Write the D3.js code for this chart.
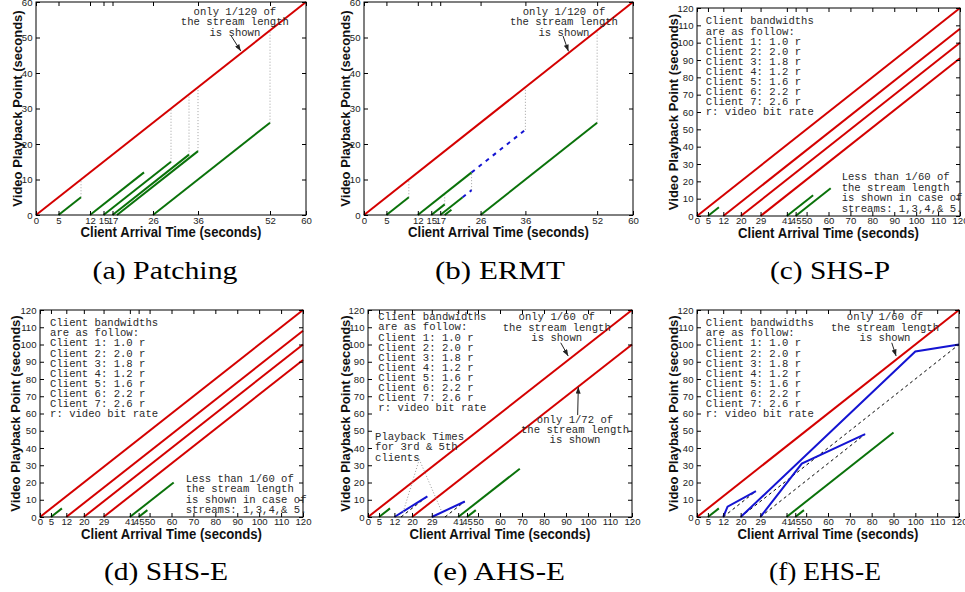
<!DOCTYPE html>
<html><head><meta charset="utf-8">
<script src="https://cdn.jsdelivr.net/npm/d3@7"></script>
<style>body{margin:0;background:#fff}svg{display:block}</style>
</head><body>
<svg id="c" width="965" height="592"></svg>
<script>
// ---------------- tick labels ----------------
const xTicksPatching = [0, 5, 12, 15, 17, 26, 36, 52, 60];
const yTicks60 = [0, 10, 20, 30, 40, 50, 60];
const xTicksHybrid = [0, 5, 12, 20, 29, 41, 45, 50, 60, 70, 80, 90, 100, 110, 120];
const yTicks120 = [0, 10, 20, 30, 40, 50, 60, 70, 80, 90, 100, 110, 120];

// ---------------- (a) Patching ----------------
const patchingRegular = [[[0, 0], [60, 60]]];
const patchingPatches = [
  [[5, 0], [10, 5]], [[12, 0], [24, 12]], [[15, 0], [30, 15]],
  [[17, 0], [34, 17]], [[18, 0], [36, 18]], [[26, 0], [52, 26]]
];
const patchingGuides = [
  [[10, 5], [10, 10]], [[30, 15], [30, 30]], [[34, 17], [34, 34]],
  [[36, 18], [36, 36]], [[52, 26], [52, 52]]
];

// ---------------- (b) ERMT ----------------
const ermtRegular = [[[0, 0], [60, 60]]];
const ermtPatches = [
  [[5, 0], [10, 5]], [[12, 0], [24, 12]], [[15, 0], [18, 3]],
  [[17, 0], [22, 5]], [[18, 0], [19.5, 1.5]], [[26, 0], [52, 26]]
];
const ermtExtended = [[[22, 5], [24, 7]], [[24, 12], [36, 24]]];
const ermtGuides = [
  [[10, 5], [10, 10]], [[18, 3], [18, 6]], [[24, 7], [24, 12]],
  [[36, 24], [36, 36]], [[52, 26], [52, 52]]
];

// ---------------- (c) SHS-P / (d) SHS-E ----------------
const shsRegular = [
  [[0, 0], [120, 120]], [[12, 0], [120, 108]],
  [[20, 0], [120, 100]], [[29, 0], [120, 91]]
];
const shspPatches = [[[5, 0], [10, 5]], [[41, 0], [53, 12]], [[45, 0], [61, 16]]];
const shsePatches = [[[5, 0], [10, 5]], [[41, 0], [61, 20]], [[45, 0], [49, 4]]];

// ---------------- (e) AHS-E ----------------
const ahseRegular = [[[0, 0], [120, 120]], [[20, 0], [120, 100]]];
const ahsePatches = [[[5, 0], [10, 5]], [[41, 0], [69, 28]], [[45, 0], [49, 4]]];
const ahseDownloads = [[[12, 0], [27, 12]], [[29, 0], [44, 9]]];
const ahsePlayback = [[[15, 0], [27, 12]], [[35, 0], [44, 9]]];

// ---------------- (f) EHS-E ----------------
const ehseRegular = [[[0, 0], [120, 120]]];
const ehsePatches = [[[5, 0], [10, 5]], [[41, 0], [90, 49]], [[45, 0], [49, 4]]];
const ehseDownloads = [
  [[12, 0], [14, 6], [27, 15]],
  [[20, 0], [100, 96], [120, 100]],
  [[29, 0], [48, 31], [77, 48]]
];
const ehsePlayback = [[[12, 0], [27, 15]], [[20, 0], [120, 100]], [[29, 0], [77, 48]]];

// ---------------- texts ----------------
const note120 = ["only 1/120 of", "the stream length", "is shown"];
const note60 = ["only 1/60 of", "the stream length", "is shown"];
const note72 = ["only 1/72 of", "the stream length", "is shown"];
const bandwidthNote = ["Client bandwidths", "are as follow:", "Client 1: 1.0 r", "Client 2: 2.0 r",
  "Client 3: 1.8 r", "Client 4: 1.2 r", "Client 5: 1.6 r", "Client 6: 2.2 r", "Client 7: 2.6 r",
  "r: video bit rate"];
const lessNote = ["Less than 1/60 of", "the stream length", "is shown in case of", "streams: 1,3,4,& 5."];
const playbackNote = ["Playback Times", "for 3rd & 5th", "clients"];
const captions = ["(a) Patching", "(b) ERMT", "(c) SHS-P", "(d) SHS-E", "(e) AHS-E", "(f) EHS-E"];
const xTitle = "Client Arrival Time (seconds)";
const yTitle = "Video Playback Point (seconds)";

// ---------------- styles ----------------
const RED = "#d40000", GREEN = "#0a720a", BLUE = "#1414d2", BLACK = "#000";
const SANS = "Liberation Sans, Arial, Helvetica, sans-serif";
const MONO = "Liberation Mono, Courier New, monospace";
const SERIF = "Liberation Serif, Times New Roman, serif";

const svg = d3.select("#c");
const defs = svg.append("defs");
defs.append("marker").attr("id", "arr").attr("viewBox", "0 0 8 6")
  .attr("refX", 8).attr("refY", 3).attr("markerWidth", 7).attr("markerHeight", 5)
  .attr("markerUnits", "userSpaceOnUse").attr("orient", "auto")
  .append("path").attr("d", "M0,0L8,3L0,6Z").attr("fill", "#222");

function drawPanel(p) {
  const x = d3.scaleLinear().domain(p.xDomain).range([p.left, p.right]);
  const y = d3.scaleLinear().domain(p.yDomain).range([p.bottom, p.top]);
  const g = svg.append("g");
  const line = d3.line().x(d => x(d[0])).y(d => y(d[1]));

  p.layers.forEach(L => {
    g.append("g").selectAll("path").data(L.data).enter().append("path")
      .attr("d", line).attr("fill", "none").attr("stroke", L.color)
      .attr("stroke-width", L.width).attr("stroke-dasharray", L.dash || null);
  });

  function styleAxis(a) {
    a.select(".domain").remove();
    a.attr("font-family", SANS).attr("font-size", 9.6);
    a.selectAll("text").attr("fill", "#222");
    a.selectAll("line").attr("stroke", "#000");
  }
  const ab = g.append("g").attr("transform", `translate(0,${p.bottom})`)
    .call(d3.axisBottom(x).tickValues(p.xTicks).tickSize(-4).tickPadding(p.xPad).tickFormat(d3.format("d")));
  styleAxis(ab);
  const at = g.append("g").attr("transform", `translate(0,${p.top})`)
    .call(d3.axisTop(x).tickValues(p.xTicks).tickSize(-4).tickFormat(""));
  styleAxis(at);
  const al = g.append("g").attr("transform", `translate(${p.left},0)`)
    .call(d3.axisLeft(y).tickValues(p.yTicks).tickSize(-4).tickPadding(3.5).tickFormat(d3.format("d")));
  styleAxis(al);
  const ar = g.append("g").attr("transform", `translate(${p.right},0)`)
    .call(d3.axisRight(y).tickValues(p.yTicks).tickSize(-4).tickFormat(""));
  styleAxis(ar);

  g.append("rect").attr("x", p.left).attr("y", p.top)
    .attr("width", p.right - p.left).attr("height", p.bottom - p.top)
    .attr("fill", "none").attr("stroke", "#000").attr("stroke-width", 1);

  // axis titles
  g.append("text").attr("x", (p.left + p.right) / 2).attr("y", p.xTitleY)
    .attr("text-anchor", "middle").attr("font-family", SANS).attr("font-weight", "bold")
    .attr("font-size", 14.5).attr("fill", "#111")
    .attr("textLength", 181).attr("lengthAdjust", "spacingAndGlyphs").text(xTitle);
  g.append("text").attr("transform", `translate(${p.yTitleX},${(p.top + p.bottom) / 2}) rotate(-90)`)
    .attr("dy", "0.35em").attr("text-anchor", "middle").attr("font-family", SANS)
    .attr("font-weight", "bold").attr("font-size", 13).attr("fill", "#111").text(yTitle);

  // annotations (positions in data units)
  (p.notes || []).forEach(n => {
    if (n.type === "text") {
      const t = g.append("text").attr("font-family", MONO).attr("font-size", 10.6)
        .attr("fill", "#2a2a2a").attr("text-anchor", n.anchor || "start")
        .attr("xml:space", "preserve");
      n.lines.forEach((s, i) => {
        t.append("tspan").attr("x", x(n.at[0])).attr("y", y(n.at[1]) + i * (n.gap || 10.2)).text(s);
      });
    } else {
      g.append("path").attr("d", line([n.from, n.to])).attr("fill", "none")
        .attr("stroke", n.type === "arrow" ? "#222" : "#9a9a9a")
        .attr("stroke-width", 1)
        .attr("stroke-dasharray", n.type === "arrow" ? null : "1,2")
        .attr("marker-end", n.head ? "url(#arr)" : null);
    }
  });

  // caption
  g.append("text").attr("x", p.capX).attr("y", p.capY).attr("text-anchor", "middle")
    .attr("font-family", SERIF).attr("font-size", 26).attr("fill", "#000")
    .attr("textLength", p.capW).attr("lengthAdjust", "spacingAndGlyphs").text(p.caption);
}

const guideStyle = { color: "#a0a0a0", width: 1, dash: "1,2" };

drawPanel({
  left: 36, right: 306, top: 2, bottom: 215, xDomain: [0, 60], yDomain: [0, 60],
  xTicks: xTicksPatching, yTicks: yTicks60, xTitleY: 237, yTitleX: 17, xPad: 2.5,
  caption: captions[0], capX: 165, capY: 279, capW: 145,
  layers: [
    Object.assign({ data: patchingGuides }, guideStyle),
    { data: patchingRegular, color: RED, width: 2 },
    { data: patchingPatches, color: GREEN, width: 2 }
  ],
  notes: [
    { type: "text", lines: note120, at: [44.2, 56.3], anchor: "middle" },
    { type: "arrow", from: [43.4, 50.4], to: [45.5, 46.2], head: true }
  ]
});

drawPanel({
  left: 364, right: 633, top: 2, bottom: 215, xDomain: [0, 60], yDomain: [0, 60],
  xTicks: xTicksPatching, yTicks: yTicks60, xTitleY: 237, yTitleX: 345, xPad: 2.5,
  caption: captions[1], capX: 500, capY: 279, capW: 130,
  layers: [
    Object.assign({ data: ermtGuides }, guideStyle),
    { data: ermtRegular, color: RED, width: 2 },
    { data: ermtPatches, color: GREEN, width: 2 },
    { data: ermtExtended, color: BLUE, width: 2, dash: "4,5" }
  ],
  notes: [
    { type: "text", lines: note120, at: [44.6, 56.3], anchor: "middle" },
    { type: "arrow", from: [44.4, 50.4], to: [45.6, 46.1], head: true }
  ]
});

drawPanel({
  left: 697, right: 960, top: 8, bottom: 216, xDomain: [0, 120], yDomain: [0, 120],
  xTicks: xTicksHybrid, yTicks: yTicks120, xTitleY: 237.5, yTitleX: 673, xPad: 1.5,
  caption: captions[2], capX: 830, capY: 279, capW: 120,
  layers: [
    { data: shsRegular, color: RED, width: 2 },
    { data: shspPatches, color: GREEN, width: 2 }
  ],
  notes: [
    { type: "text", lines: bandwidthNote, at: [4.0, 110.5], gap: 10.1 },
    { type: "text", lines: lessNote, at: [66, 20.7], gap: 10.5 }
  ]
});

drawPanel({
  left: 40, right: 303, top: 310, bottom: 517, xDomain: [0, 120], yDomain: [0, 120],
  xTicks: xTicksHybrid, yTicks: yTicks120, xTitleY: 539, yTitleX: 15, xPad: 1.5,
  caption: captions[3], capX: 166, capY: 580, capW: 124,
  layers: [
    { data: shsRegular, color: RED, width: 2 },
    { data: shsePatches, color: GREEN, width: 2 }
  ],
  notes: [
    { type: "text", lines: bandwidthNote, at: [4.6, 110.6], gap: 10.1 },
    { type: "text", lines: lessNote, at: [66.5, 20.4], gap: 10.5 }
  ]
});

drawPanel({
  left: 368, right: 632, top: 310, bottom: 517, xDomain: [0, 120], yDomain: [0, 120],
  xTicks: xTicksHybrid, yTicks: yTicks120, xTitleY: 539, yTitleX: 345, xPad: 1.5,
  caption: captions[4], capX: 499, capY: 580, capW: 132,
  layers: [
    { data: ahseRegular, color: RED, width: 2 },
    { data: ahsePatches, color: GREEN, width: 2 },
    { data: ahsePlayback, color: BLACK, width: 1, dash: "3,3" },
    { data: ahseDownloads, color: BLUE, width: 2 }
  ],
  notes: [
    { type: "text", lines: bandwidthNote, at: [4.7, 114], gap: 10.1 },
    { type: "text", lines: note60, at: [85.8, 114], anchor: "middle" },
    { type: "arrow", from: [87.6, 101], to: [91, 93.3], head: true },
    { type: "text", lines: note72, at: [94.1, 54.6], anchor: "middle" },
    { type: "arrow", from: [95.3, 59.1], to: [95.6, 75.4], head: true },
    { type: "text", lines: playbackNote, at: [3.2, 44.5] },
    { type: "dotted", from: [23.3, 33.4], to: [15.8, 2.1] },
    { type: "dotted", from: [23.3, 33.4], to: [33.5, 3.1] }
  ]
});

drawPanel({
  left: 697, right: 959, top: 310, bottom: 517, xDomain: [0, 120], yDomain: [0, 120],
  xTicks: xTicksHybrid, yTicks: yTicks120, xTitleY: 539, yTitleX: 673, xPad: 1.5,
  caption: captions[5], capX: 825, capY: 580, capW: 112,
  layers: [
    { data: ehseRegular, color: RED, width: 2 },
    { data: ehsePatches, color: GREEN, width: 2 },
    { data: ehsePlayback, color: BLACK, width: 1, dash: "3,3" },
    { data: ehseDownloads, color: BLUE, width: 2 }
  ],
  notes: [
    { type: "text", lines: bandwidthNote, at: [4.0, 110.6], gap: 10.1 },
    { type: "text", lines: note60, at: [86.1, 114], anchor: "middle" },
    { type: "arrow", from: [89.2, 101], to: [91.2, 93.3], head: true }
  ]
});
</script>
</body></html>
